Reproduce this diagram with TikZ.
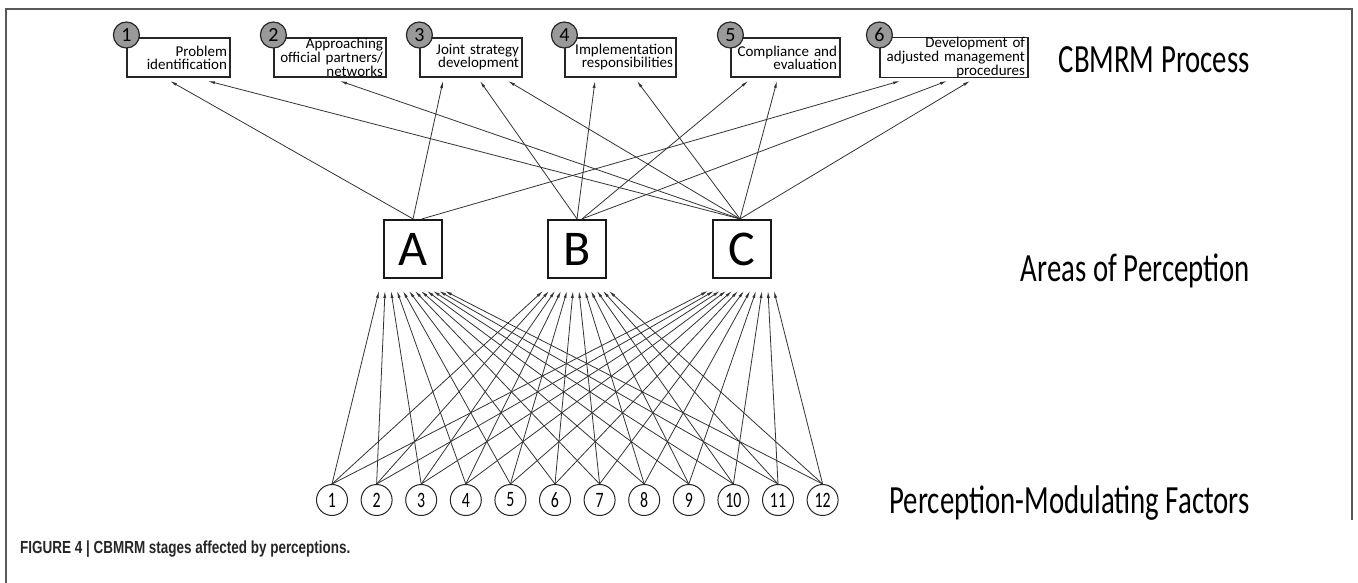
\documentclass[tikz,border=0pt]{standalone}
\usepackage{fontspec}
\setmainfont{Carlito}
\newfontfamily\levelfont{Carlito}[FakeStretch=0.72]
\newfontfamily\capfont{Liberation Sans}[FakeStretch=0.77]
\usetikzlibrary{arrows.meta}
\hyphenpenalty=10000

\begin{document}
\begin{tikzpicture}[x=1pt, y=-1pt,
    link/.style={draw=black!80, line width=0.8pt, -{Latex[length=7pt,width=3pt]}},
    stage/.style={draw=black!85, line width=1.2pt, minimum height=39pt, inner xsep=3pt, inner ysep=0pt, align=right, font=\fontsize{15}{13}\selectfont},
    stagenum/.style={circle, draw=black!85, fill=black!40, line width=1.2pt, minimum size=26pt, inner sep=0pt, font=\fontsize{20}{20}\selectfont},
    area/.style={draw=black!90, line width=2.2pt, minimum size=58pt, inner sep=0pt, font=\fontsize{50}{50}\selectfont},
    factor/.style={circle, draw=black!85, fill=white, line width=1pt, minimum size=31pt, inner sep=0pt, font=\levelfont\fontsize{22}{22}\selectfont},
    level/.style={anchor=east, inner sep=0pt, font=\levelfont\fontsize{40}{40}\selectfont}]
  \useasboundingbox (0,0) rectangle (1358,583);
  % frame
  \draw[black!65, line width=1.3pt] (6,583) -- (6,9) -- (1352,9) -- (1352,520);

  % CBMRM stages
  \node[stage, text width=97pt] (p1) at (178.5,57.5) {Problem\\identification};
  \node[stage, text width=106pt, font=\fontsize{15}{12.3}\selectfont] (p2) at (330,57.5) {Approaching\\official partners/\\networks};
  \node[stage, text width=96pt] (p3) at (471,57.5) {Joint strategy\\development};
  \node[stage, text width=105pt] (p4) at (620.5,57.5) {Implementation\\responsibilities};
  \node[stage, text width=103pt] (p5) at (785.5,57.5) {Compliance and\\evaluation};
  \node[stage, text width=142pt, font=\fontsize{15}{12.3}\selectfont] (p6) at (954,57.5) {Development of\\adjusted management\\procedures};
  \coordinate (numrow) at (0,35);
  \foreach \i in {1,...,6}
    \node[stagenum] (n\i) at (p\i.north west |- numrow) {\i};

  % areas of perception
  \node[area] (A) at (413,249) {A};
  \node[area] (B) at (577,249) {B};
  \node[area] (C) at (742,249) {C};

  % perception-modulating factors
  \foreach \i in {1,...,12}
    \node[factor] (f\i) at ({332+44.6*(\i-1)},500) {\i};

  % level labels
  \node[level] (lproc) at (1250,60) {CBMRM Process};
  \node[level] (larea) at (1250,271) {Areas of Perception};
  \node[level] (lfact) at (1250,503) {Perception-Modulating Factors};

  % arrow ends below the stages
  \coordinate (t1a) at (170,81);
  \coordinate (t1c) at (208,81);
  \coordinate (t2c) at (340,81);
  \coordinate (t3a) at (443,81);
  \coordinate (t3b) at (480,81);
  \coordinate (t3c) at (508,81);
  \coordinate (t4b) at (595,81);
  \coordinate (t4c) at (637,81);
  \coordinate (t5b) at (748,81);
  \coordinate (t5c) at (777,81);
  \coordinate (t6a) at (900,81);
  \coordinate (t6b) at (947,81);
  \coordinate (t6c) at (970,81);

  \draw[link] (A.north) -- (t1a);
  \draw[link] (A.north) -- (t3a);
  \draw[link] ([xshift=9pt]A.north) -- (t6a);
  \draw[link] (B.north) -- (t3b);
  \draw[link] (B.north) -- (t4b);
  \draw[link] ([xshift=5pt]B.north) -- (t5b);
  \draw[link] ([xshift=5pt]B.north) -- (t6b);
  \draw[link] ([xshift=-2pt]C.north) -- (t1c);
  \draw[link] ([xshift=-2pt]C.north) -- (t2c);
  \draw[link] ([xshift=-2pt]C.north) -- (t3c);
  \draw[link] ([xshift=-2pt]C.north) -- (t4c);
  \draw[link] ([xshift=-2pt]C.north) -- (t5c);
  \draw[link] ([xshift=-2pt]C.north) -- (t6c);

  % factors to areas
  \foreach \i in {1,...,12} {
    \coordinate (inA\i) at ({379+6*(\i-1)},291);
    \coordinate (inB\i) at ({543+6*(\i-1)},291);
    \coordinate (inC\i) at ({708+6*(\i-1)},291);
    \draw[link] (f\i.north) -- (inA\i);
    \draw[link] (f\i.north) -- (inB\i);
    \draw[link] (f\i.north) -- (inC\i);
  }

  % caption
  \node[anchor=west, inner sep=0pt, text=black!85, font=\capfont\bfseries\fontsize{17.5}{17.5}\selectfont] (cap) at (20,549) {FIGURE 4 | CBMRM stages affected by perceptions.};
\end{tikzpicture}
\end{document}
